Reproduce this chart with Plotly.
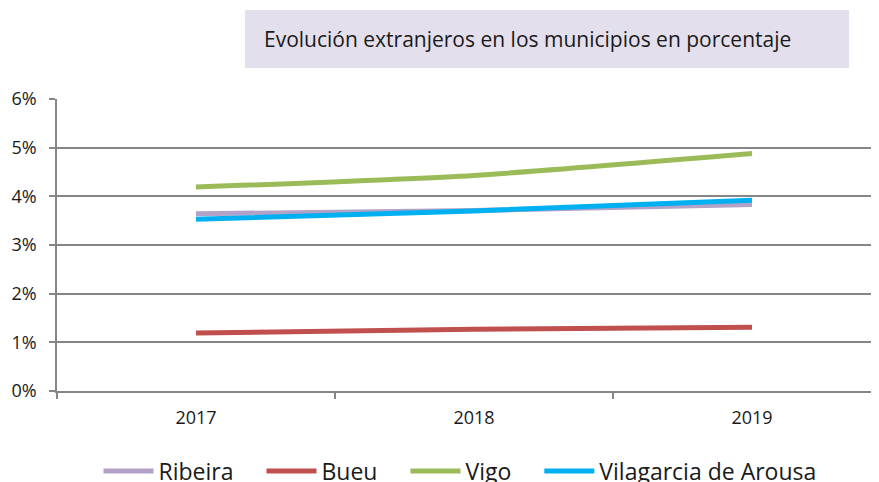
import plotly.graph_objects as go

years = ["2017", "2018", "2019"]
ribeira = [3.64, 3.71, 3.83]
bueu = [1.19, 1.27, 1.31]
vigo = [4.19, 4.43, 4.88]
vilagarcia = [3.53, 3.70, 3.92]

names = ["Ribeira", "Bueu", "Vigo", "Vilagarcia de Arousa"]
colors = ["#b3a2c7", "#c0504d", "#9bbb59", "#00b0f0"]
values = [ribeira, bueu, vigo, vilagarcia]

# page body has an 8px margin, so the figure is drawn shifted by 8px
OFF = 8
W, H = 879 - OFF, 482 - OFF
L, R, T, B = 57 - OFF, 879 - OFF, 99 - OFF, 391 - OFF

fig = go.Figure()
for i, (name, vals, col) in enumerate(zip(names, values, colors)):
    label = name + ("\u2003" if i < len(names) - 1 else "")
    fig.add_trace(go.Scatter(
        x=years, y=vals, name=label, mode="lines",
        line=dict(color=col, width=5, shape="spline", smoothing=0.6),
    ))

font = "Open Sans, Liberation Sans, sans-serif"

def px_x(p):
    return (p - OFF - L) / (R - L)

def px_y(p):
    return (B - (p - OFF)) / (B - T)

fig.add_shape(type="rect", xref="paper", yref="paper",
              x0=px_x(245), x1=px_x(849), y0=px_y(68), y1=px_y(10),
              fillcolor="#e4dfec", line=dict(width=0), layer="below")
fig.add_annotation(xref="paper", yref="paper", x=px_x(262), y=px_y(39),
                   xanchor="left", yanchor="middle", showarrow=False,
                   text="Evolución extranjeros en los municipios en porcentaje",
                   font=dict(family=font, size=21, color="#1a1a1a"))

fig.update_layout(
    width=W, height=H,
    margin=dict(l=L, r=W - R, t=T, b=H - B, pad=0),
    paper_bgcolor="white", plot_bgcolor="white",
    font=dict(family=font, color="#1a1a1a"),
    showlegend=True,
    legend=dict(orientation="h", x=(460 - OFF) / W, xanchor="center", xref="container",
                y=1 - (471 - OFF) / H, yanchor="middle", yref="container",
                font=dict(family=font, size=23, color="#1a1a1a"),
                itemwidth=50, tracegroupgap=0),
    xaxis=dict(
        type="category", range=[-0.5, -0.5 + 3 * (R - L) / (891 - 57)],
        showgrid=False, showline=True, linecolor="#868686", linewidth=1.5,
        ticks="outside", tickson="boundaries", ticklen=6, tickcolor="#868686",
        tickwidth=1.5, ticklabelstandoff=10,
        tickfont=dict(family=font, size=18, color="#1a1a1a"),
        fixedrange=True,
    ),
    yaxis=dict(
        range=[0, 6], dtick=1, ticksuffix="%",
        showgrid=True, gridcolor="#868686", gridwidth=1.5,
        showline=True, linecolor="#868686", linewidth=1.5,
        ticks="outside", ticklen=6, tickcolor="#868686", tickwidth=1.5,
        ticklabelstandoff=9,
        tickfont=dict(family=font, size=18, color="#1a1a1a"),
        zeroline=False,
    ),
)

fig.write_html("out.html")
